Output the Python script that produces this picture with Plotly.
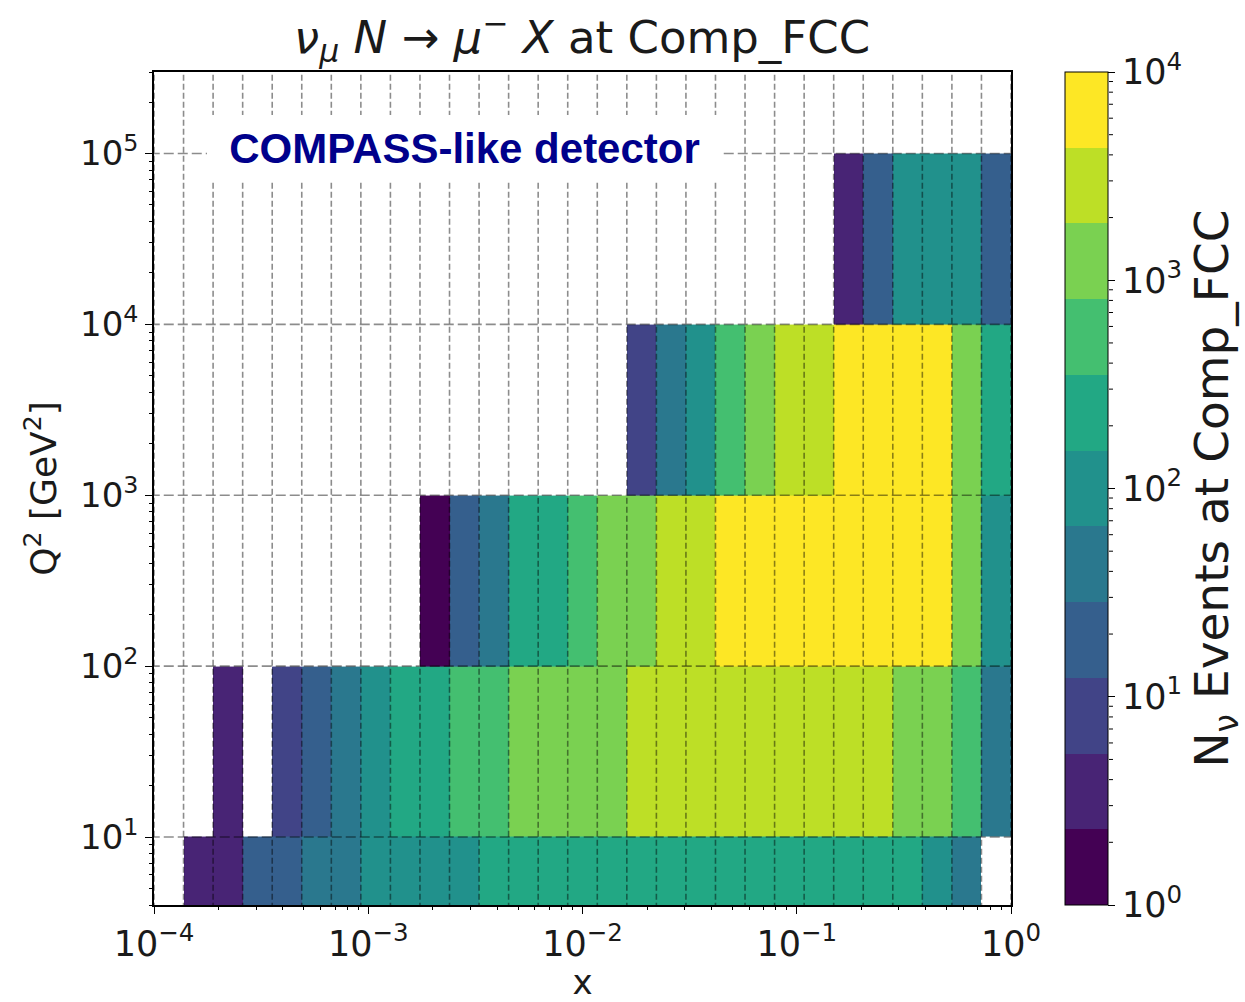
import numpy as np
import plotly.graph_objects as go

# ---- binning (29 log bins in x, decade bins in Q^2) ----
X_EDGES = np.logspace(-4, 0, 30)
Q2_EDGES = [1, 10, 100, 1e3, 1e4, 1e5]

N = None
# event counts per x bin (29 bins), one list per Q^2 decade
ROW_Q2_1_10 = [N, 3.5, 3.5, 19, 19, 43, 43, 100, 100, 100, 100,
               230, 230, 230, 230, 230, 230, 230, 230, 230, 230, 230, 230, 230, 230, 230,
               100, 43, N]
ROW_Q2_10_100 = [N, N, 3.5, N, 8, 19, 43, 100, 230, 230, 530, 530,
                 1230, 1230, 1230, 1230,
                 2850, 2850, 2850, 2850, 2850, 2850, 2850, 2850, 2850,
                 1230, 1230, 530, 43]
ROW_Q2_100_1E3 = [N, N, N, N, N, N, N, N, N,
                  1.5, 19, 43, 230, 230, 530, 1230, 1230, 2850, 2850,
                  6600, 6600, 6600, 6600, 6600, 6600, 6600, 6600,
                  1230, 100]
ROW_Q2_1E3_1E4 = [N] * 16 + [8, 43, 100, 530, 1230, 2850, 2850,
                             6600, 6600, 6600, 6600, 1230, 230]
ROW_Q2_1E4_1E5 = [N] * 23 + [3.5, 19, 100, 100, 100, 19]

ROWS = [ROW_Q2_1_10, ROW_Q2_10_100, ROW_Q2_100_1E3, ROW_Q2_1E3_1E4, ROW_Q2_1E4_1E5]

X_TICKS = [1e-4, 1e-3, 1e-2, 1e-1, 1]
X_TICKTEXT = ["10<sup>−4</sup>", "10<sup>−3</sup>", "10<sup>−2</sup>", "10<sup>−1</sup>", "10<sup>0</sup>"]
Y_TICKS = [10, 100, 1e3, 1e4, 1e5]
Y_TICKTEXT = ["10<sup>1</sup>", "10<sup>2</sup>", "10<sup>3</sup>", "10<sup>4</sup>", "10<sup>5</sup>"]
CB_TICKS = [0, 1, 2, 3, 4]
CB_TICKTEXT = ["10<sup>0</sup>", "10<sup>1</sup>", "10<sup>2</sup>", "10<sup>3</sup>", "10<sup>4</sup>"]
CB_MIN, CB_MAX = 0, 4

VIRIDIS11 = ["#440154", "#482475", "#414487", "#355f8d", "#2a788e", "#21918c",
             "#22a884", "#44bf70", "#7ad151", "#bddf26", "#fde725"]
nb = len(VIRIDIS11)
colorscale = []
for k, c in enumerate(VIRIDIS11):
    colorscale.append([k / nb, c])
    colorscale.append([(k + 1) / nb, c])

z = [[(np.log10(v) if v is not None else None) for v in row] for row in ROWS]

FONT = "DejaVu Sans"
TXT = "#1a1a1a"
W, H = 1245, 1002
ML, MR, MT, MB = 154, 234, 72, 97
PW = W - ML - MR
CB_X = 1.063
CB_THICK = 43

fig = go.Figure()
fig.add_trace(go.Heatmap(
    x=X_EDGES, y=Q2_EDGES, z=z, zmin=CB_MIN, zmax=CB_MAX, colorscale=colorscale,
    hoverongaps=False,
    colorbar=dict(x=CB_X, xanchor="left", xpad=0, y=0.5, yanchor="middle", len=1, ypad=0,
                  thickness=CB_THICK, outlinewidth=1, outlinecolor="black",
                  tickmode="array", tickvals=CB_TICKS, ticktext=CB_TICKTEXT,
                  ticks="outside", ticklen=7, tickwidth=1.2, tickcolor="black",
                  tickfont=dict(family=FONT, size=35, color=TXT),
                  title=dict(text="N<sub>ν</sub> Events at Comp_FCC", side="right",
                             font=dict(family=FONT, size=47, color=TXT))),
))

# dashed grid lines drawn above the cells
gx, gy = [], []
for e in X_EDGES:
    gx += [e, e, None]
    gy += [1, 1e6, None]
fig.add_trace(go.Scatter(x=gx, y=gy, mode="lines", showlegend=False, hoverinfo="skip",
                         line=dict(color="rgba(0,0,0,0.45)", width=1.6, dash="6px,3px")))
hx, hy = [], []
for t in Y_TICKS:
    hx += [1e-5, 10, None]
    hy += [t, t, None]
fig.add_trace(go.Scatter(x=hx, y=hy, mode="lines", showlegend=False, hoverinfo="skip",
                         line=dict(color="rgba(0,0,0,0.45)", width=1.6, dash="10px,4px")))

# minor (log) ticks on the colour bar
shapes = []
cb_right = CB_X + (CB_THICK + 1) / PW
for d in range(CB_MIN, CB_MAX):
    for m in range(2, 10):
        v = np.log10(m * 10 ** d)
        yy = (v - CB_MIN) / (CB_MAX - CB_MIN)
        shapes.append(dict(type="line", xref="paper", yref="paper",
                           x0=cb_right, x1=cb_right + 4 / PW, y0=yy, y1=yy,
                           line=dict(color="black", width=1)))

axis_common = dict(type="log", showgrid=False, zeroline=False, showline=True,
                   linecolor="black", linewidth=1.5, mirror=True,
                   ticks="outside", ticklen=7, tickwidth=1.2, tickcolor="black",
                   minor=dict(ticks="outside", ticklen=3.5, tickwidth=1, tickcolor="black",
                              dtick="D1", showgrid=False))

fig.update_layout(
    width=W, height=H,
    margin=dict(l=ML, r=MR, t=MT, b=MB, autoexpand=False),
    paper_bgcolor="white", plot_bgcolor="white",
    title=dict(text="<i>ν</i><sub><i>μ</i></sub> <i>N</i> → <i>μ</i><sup>−</sup> <i>X</i> at Comp_FCC",
               x=0.4675, xanchor="center", y=0.963, yanchor="middle",
               font=dict(family=FONT, size=45, color=TXT)),
    xaxis=dict(axis_common, range=[-4, 0], tickmode="array", tickvals=X_TICKS,
               ticktext=X_TICKTEXT, tickfont=dict(family=FONT, size=35, color=TXT),
               title=dict(text="x", font=dict(family=FONT, size=34, color=TXT), standoff=4)),
    yaxis=dict(axis_common, range=[np.log10(4), np.log10(3e5)], tickmode="array",
               tickvals=Y_TICKS, ticktext=Y_TICKTEXT,
               tickfont=dict(family=FONT, size=34, color=TXT),
               title=dict(text="Q<sup>2</sup> [GeV<sup>2</sup>]",
                          font=dict(family=FONT, size=36, color=TXT), standoff=12)),
    shapes=shapes,
    annotations=[dict(text="<b>COMPASS-like detector</b>", xref="paper", yref="paper",
                      x=0.362, y=0.909, xanchor="center", yanchor="middle",
                      showarrow=False, bgcolor="white", width=507, height=58,
                      borderpad=4, borderwidth=0,
                      font=dict(family="Liberation Sans", size=42, color="#00008B"))],
)

fig.write_html("out.html")
